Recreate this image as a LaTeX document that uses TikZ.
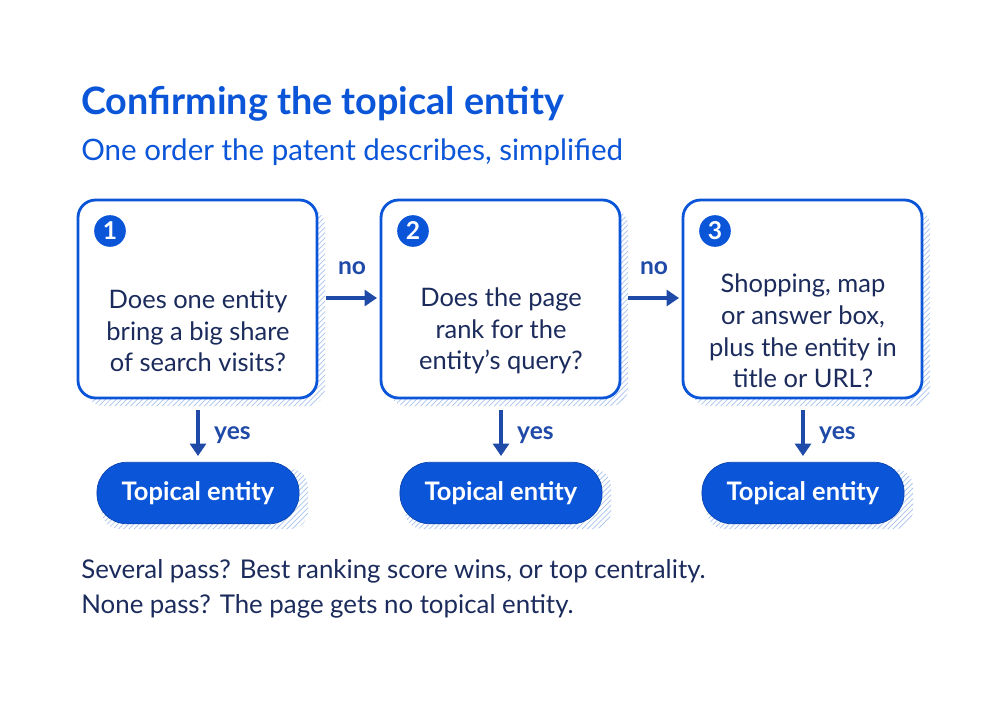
\documentclass[tikz,border=0pt]{standalone}
\usepackage{fontspec}
\setmainfont{Lato}
\usetikzlibrary{patterns,arrows.meta}
\definecolor{brand}{HTML}{0B55D9}
\definecolor{ink}{HTML}{1B2B5C}
\definecolor{arrowblue}{HTML}{1F4AA8}
\definecolor{hatch}{HTML}{A9C4F0}
\tikzset{
  checkbox/.style={draw=brand, line width=1.6pt, fill=white, rounded corners=10pt},
  shade/.style={pattern=north east lines, pattern color=hatch, rounded corners=10pt},
  num/.style={circle, fill=brand, text=white, font=\bfseries\fontsize{14}{14}\selectfont, minimum size=18pt, inner sep=0pt},
  question/.style={text=ink, align=center, font=\fontsize{14.5}{18}\selectfont},
  result/.style={fill=brand, draw=brand!80!black, text=white, rounded corners=17pt, minimum width=115pt, minimum height=35pt, font=\bfseries\fontsize{14.5}{14.5}\selectfont},
  flow/.style={-{Triangle[length=7pt,width=9pt]}, arrowblue, line width=2.4pt},
  tag/.style={text=arrowblue, font=\bfseries\fontsize{14}{14}\selectfont}
}
\begin{document}
\begin{tikzpicture}[x=0.02cm,y=-0.02cm]
  \fill[white] (0,0) rectangle (1000,700);
  \useasboundingbox (0,0) rectangle (1000,700);
  \node[anchor=west, inner sep=0pt, text=brand, font=\bfseries\fontsize{21.5}{21.5}\selectfont] (title) at (81,104) {Confirming the topical entity};
  \node[anchor=west, inner sep=0pt, text=brand, font=\fontsize{16.8}{16.8}\selectfont] (sub) at (81,152) {One order the patent describes, simplified};
  % three checks
  \foreach \i/\x/\q in {1/78/{Does one entity\\bring a big share\\of search visits?},
                        2/381/{Does the page\\rank for the\\entity’s query?},
                        3/683/{Shopping, map\\or answer box,\\plus the entity in\\title or URL?}} {
    \fill[shade] (\x+8,208) rectangle (\x+247,406);
    \draw[checkbox] (\x,200) rectangle (\x+239,398);
    \node[num] (n\i) at (\x+32,231) {\i};
    \node[question] (q\i) at (\x+120,331) {\q};
    \fill[shade] (\x+24,469) rectangle (\x+230,529);
    \node[result] (r\i) at (\x+120,493) {Topical entity};
    \coordinate (d\i) at (\x+120,410);
    \coordinate (e\i) at (\x+120,456);
    \draw[flow] (d\i) -- (e\i);
    \node[tag, anchor=west] (y\i) at (\x+130,435) {yes};
  }
  \coordinate (a1) at (326,298);
  \coordinate (b1) at (377,298);
  \coordinate (a2) at (628,298);
  \coordinate (b2) at (679,298);
  \draw[flow] (a1) -- (b1);
  \draw[flow] (a2) -- (b2);
  \node[tag] (no1) at (352,268) {no};
  \node[tag] (no2) at (654,268) {no};
  % note
  \node[anchor=west, inner sep=0pt, text=ink, align=left, font=\fontsize{14.7}{20}\selectfont] (note) at (81,589)
    {Several pass? Best ranking score wins, or top centrality.\\None pass? The page gets no topical entity.};
\end{tikzpicture}
\end{document}
